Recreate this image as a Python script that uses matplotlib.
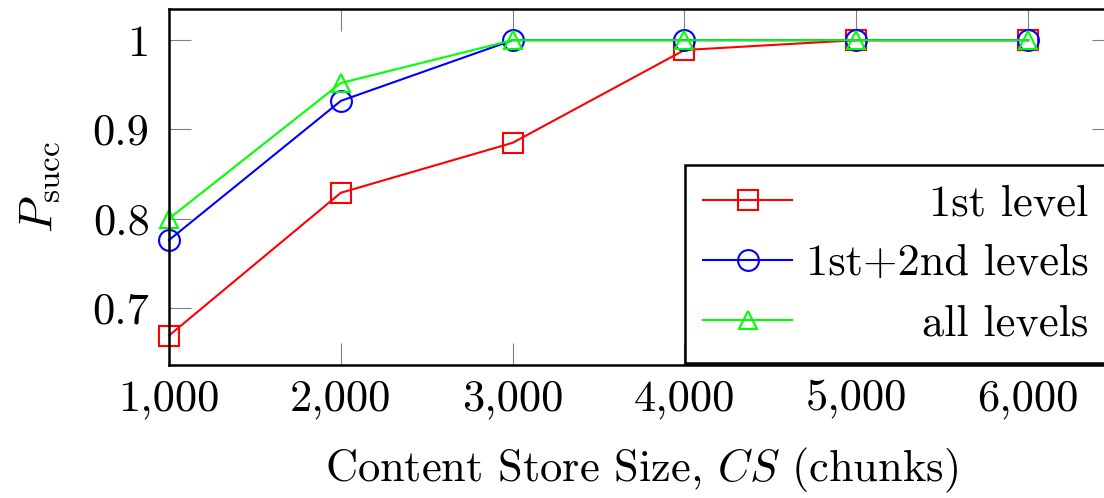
import matplotlib
matplotlib.use("Agg")
import matplotlib.pyplot as plt

plt.rcParams.update(
    {
        "font.family": "cmr10",
        "mathtext.fontset": "cm",
        "axes.formatter.use_mathtext": True,
        "font.size": 32,
    }
)

# ---- data ----
cs_size = [1000, 2000, 3000, 4000, 5000, 6000]
psucc_1st = [0.669, 0.829, 0.885, 0.989, 1.0, 1.0]
psucc_1st_2nd = [0.776, 0.932, 1.0, 1.0, 1.0, 1.0]
psucc_all = [0.800, 0.952, 1.0, 1.0, 1.0, 1.0]

series_labels = ["1st level", "1st+2nd levels", "all levels"]
xtick_labels = ["1,000", "2,000", "3,000", "4,000", "5,000", "6,000"]
yticks = [0.7, 0.8, 0.9, 1.0]
ytick_labels = ["0.7", "0.8", "0.9", "1"]

fig = plt.figure(figsize=(11.04, 4.98), dpi=100)
ax = fig.add_axes([0.1531, 0.2671, 0.8560, 0.7149])

styles = [
    dict(color="#ff0000", marker="s", markersize=14.4),
    dict(color="#0000ff", marker="o", markersize=15),
    dict(color="#00ff00", marker="^", markersize=13),
]
for ys, label, st in zip([psucc_1st, psucc_1st_2nd, psucc_all], series_labels, styles):
    ax.plot(
        cs_size,
        ys,
        label=label,
        linewidth=1.5,
        markerfacecolor="none",
        markeredgewidth=1.5,
        clip_on=False,
        **st,
    )

ax.set_xlim(1000, 6500)
ax.set_ylim(0.636, 1.035)
ax.set_xticks(cs_size)
ax.set_xticklabels(xtick_labels)
ax.set_yticks(yticks)
ax.set_yticklabels(ytick_labels)

ax.tick_params(
    direction="in",
    length=16,
    width=0.8,
    color="#808080",
    top=True,
    right=True,
)
ax.tick_params(axis="x", pad=10)
ax.tick_params(axis="y", pad=14)
for sp in ax.spines.values():
    sp.set_linewidth(1.8)
    sp.set_color("black")

ax.set_xlabel(r"Content Store Size, $CS$ (chunks)", labelpad=19)
ax.set_ylabel(r"$P_{\mathrm{succ}}$", labelpad=22, fontsize=34)

leg = ax.legend(
    loc="lower right",
    bbox_to_anchor=(0.9925, 0.0056),
    borderaxespad=0,
    fancybox=False,
    framealpha=1,
    edgecolor="black",
    handlelength=2.0,
    handletextpad=0.3,
    borderpad=0.42,
    labelspacing=0.45,
)
leg.get_frame().set_linewidth(1.8)

# right-align legend texts like pgfplots
fig.canvas.draw()
renderer = fig.canvas.get_renderer()
texts = leg.get_texts()
rights = [t.get_window_extent(renderer).x1 for t in texts]
max_right = max(rights)
for t, r in zip(texts, rights):
    t.set_x(t.get_position()[0] + (max_right - r))

fig.savefig("out.png", dpi=100)
